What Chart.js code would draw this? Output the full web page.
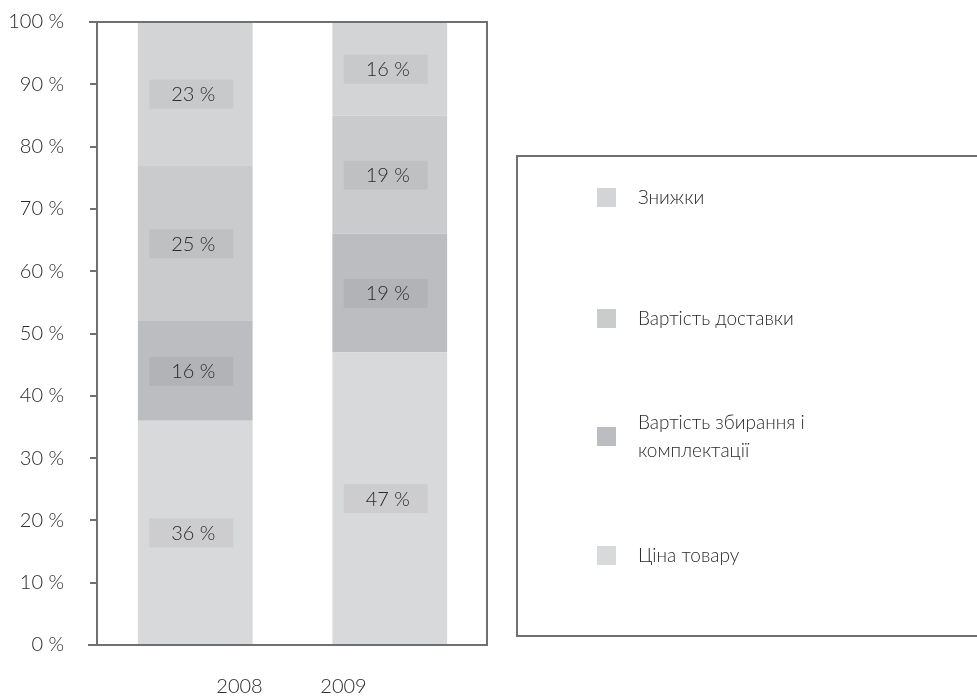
<!DOCTYPE html>
<html lang="uk">
<head>
<meta charset="utf-8">
<title>Структура витрат</title>
<script src="https://cdn.jsdelivr.net/npm/chart.js@4/dist/chart.umd.min.js"></script>
<style>
    html, body { margin: 0; padding: 0; background: #fff; }
    #wrap { width: 977px; height: 700px; position: relative; }
</style>
</head>
<body>
<div id="wrap"><canvas id="costChart"></canvas></div>
<script>
// Роки та частки витрат, %
const years = ['2008', '2009'];
const seriesNames = ['Ціна товару', 'Вартість збирання і комплектації', 'Вартість доставки', 'Знижки'];
const priceShare = [36, 47];
const pickingShare = [16, 19];
const deliveryShare = [25, 19];
const discountShare = [23, 16];
const yTicks = [0, 10, 20, 30, 40, 50, 60, 70, 80, 90, 100];

const colors = ['#d8d9db', '#bcbdc0', '#cacbcd', '#d3d4d6'];
const lineColor = '#707070';
const textColor = '#2a2a2a';
const fontFamily = 'Lato, "Open Sans", sans-serif';

// рамка області графіка: низ під стовпцями, решта поверх
const framePlugin = {
    id: 'frame',
    beforeDatasetsDraw(chart) {
        const { ctx, chartArea: a } = chart;
        ctx.save();
        ctx.strokeStyle = lineColor;
        ctx.lineWidth = 2;
        ctx.beginPath();
        ctx.moveTo(a.left - 10, a.bottom);
        ctx.lineTo(a.right + 1, a.bottom);
        ctx.stroke();
        ctx.restore();
    },
    afterDatasetsDraw(chart) {
        const { ctx, chartArea: a } = chart;
        ctx.save();
        ctx.strokeStyle = lineColor;
        ctx.lineWidth = 2;
        ctx.beginPath();
        ctx.moveTo(a.left - 1, a.bottom);
        ctx.lineTo(a.left - 1, a.top);
        ctx.moveTo(a.left - 9, a.top);
        ctx.lineTo(a.right, a.top);
        ctx.lineTo(a.right, a.bottom + 1);
        ctx.stroke();
        ctx.restore();
    }
};

// підписи значень у сірих плашках
const valueLabels = {
    id: 'valueLabels',
    afterDatasetsDraw(chart) {
        const { ctx, chartArea: a } = chart;
        ctx.save();
        ctx.font = '300 20px ' + fontFamily;
        ctx.textAlign = 'center';
        ctx.textBaseline = 'middle';
        chart.data.datasets.forEach((ds, i) => {
            chart.getDatasetMeta(i).data.forEach((bar, j) => {
                const top = Math.max(bar.y, a.top);
                const cy = (top + bar.base) / 2;
                const cx = bar.x - 4;
                ctx.fillStyle = 'rgba(0,0,0,0.05)';
                ctx.fillRect(cx - 42, cy - 14, 84, 29);
                ctx.fillStyle = textColor;
                ctx.fillText(ds.data[j] + ' %', cx + 2, cy + 1);
            });
        });
        ctx.restore();
    }
};

// роки під віссю
const yearLabels = {
    id: 'yearLabels',
    afterDraw(chart) {
        const { ctx } = chart;
        const x = chart.scales.x;
        const mid = (x.getPixelForValue(0) + x.getPixelForValue(1)) / 2;
        ctx.save();
        ctx.font = '300 20px ' + fontFamily;
        ctx.fillStyle = textColor;
        ctx.textAlign = 'center';
        ctx.textBaseline = 'middle';
        ctx.fillText(years[0], mid - 53, 687);
        ctx.fillText(years[1], mid + 51, 687);
        ctx.restore();
    }
};

// легенда в рамці праворуч
const boxLegend = {
    id: 'boxLegend',
    afterDraw(chart) {
        const { ctx } = chart;
        const rows = [
            { i: 3, y: 198, lines: ['Знижки'] },
            { i: 2, y: 319, lines: ['Вартість доставки'] },
            { i: 1, y: 437, lines: ['Вартість збирання і', 'комплектації'] },
            { i: 0, y: 556, lines: ['Ціна товару'] }
        ];
        ctx.save();
        ctx.strokeStyle = lineColor;
        ctx.lineWidth = 2;
        ctx.strokeRect(517, 156, 470, 480);
        ctx.font = '300 19px ' + fontFamily;
        ctx.fillStyle = textColor;
        ctx.textBaseline = 'middle';
        rows.forEach(r => {
            const ds = chart.data.datasets[r.i];
            ctx.fillStyle = ds.backgroundColor;
            ctx.fillRect(597, r.y - 10, 19, 19);
            ctx.fillStyle = textColor;
            const start = r.y - (r.lines.length - 1) * 14;
            r.lines.forEach((t, k) => ctx.fillText(t, 638, start + k * 28));
        });
        ctx.restore();
    }
};

const shares = [priceShare, pickingShare, deliveryShare, discountShare];

new Chart(document.getElementById('costChart'), {
    type: 'bar',
    data: {
        labels: years,
        datasets: seriesNames.map((name, i) => ({
            label: name,
            data: shares[i],
            backgroundColor: colors[i],
            borderWidth: 0,
            barPercentage: 0.59,
            categoryPercentage: 1
        }))
    },
    options: {
        responsive: true,
        maintainAspectRatio: false,
        animation: false,
        layout: { padding: { top: 22, right: 490, left: 0, bottom: 0 } },
        plugins: {
            legend: { display: false },
            tooltip: { enabled: false }
        },
        scales: {
            x: {
                stacked: true,
                grid: { display: false },
                border: { display: false },
                ticks: { display: false },
                afterFit(s) { s.height = 55; }
            },
            y: {
                stacked: true,
                min: 0,
                max: 100,
                afterFit(s) {
                    s.width = 98;
                    s.paddingTop = 0;
                    s.paddingBottom = 0;
                },
                afterBuildTicks(s) { s.ticks = yTicks.map(v => ({ value: v })); },
                border: { display: false },
                grid: {
                    drawOnChartArea: false,
                    tickLength: 8,
                    color: lineColor,
                    lineWidth: 2
                },
                ticks: {
                    padding: 26,
                    color: textColor,
                    font: { family: fontFamily, size: 20, weight: 300 },
                    callback: v => v + ' %'
                }
            }
        }
    },
    plugins: [framePlugin, valueLabels, yearLabels, boxLegend]
});
</script>
</body>
</html>
